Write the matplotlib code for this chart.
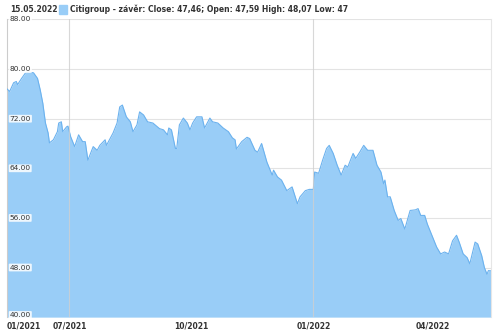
import matplotlib.pyplot as plt
import matplotlib.dates as mdates
import pandas as pd
import numpy as np

# dates as day offsets from the first point, prices
start = pd.Timestamp('2021-05-15')
day_offset = [0, 2, 5, 7, 8, 11, 14, 17, 20, 23, 25, 27, 29, 31, 32, 35, 38, 39,
              41, 42, 45, 46, 48, 51, 54, 57, 59, 61, 65, 68, 70, 74, 75, 78, 80,
              83, 85, 87, 90, 93, 95, 98, 100, 103, 106, 110, 115, 118, 121, 122,
              124, 127, 128, 130, 133, 136, 138, 140, 143, 147, 149, 153, 155, 159,
              163, 167, 170, 172, 173, 177, 181, 183, 187, 189, 192, 196, 200, 201,
              204, 207, 211, 215, 219, 221, 225, 228, 231, 232, 235, 238, 241, 243,
              246, 249, 252, 255, 257, 261, 263, 266, 269, 272, 276, 279, 282, 284,
              285, 287, 289, 292, 295, 297, 300, 304, 308, 310, 312, 315, 317, 321,
              324, 327, 330, 333, 336, 339, 341, 344, 347, 349, 353, 355, 358, 360,
              362, 363, 365]
close = [76.8, 76.4, 77.8, 78.0, 77.5, 78.5, 79.4, 79.5, 79.4, 78.5, 76.7, 74.5,
         71.3, 69.7, 68.1, 68.6, 69.9, 71.3, 71.5, 69.9, 70.7, 70.8, 69.1, 67.5,
         69.4, 68.3, 68.3, 65.3, 67.5, 66.9, 67.7, 68.6, 67.7, 68.9, 69.7, 71.3,
         73.9, 74.2, 72.3, 71.5, 69.9, 71.0, 73.1, 72.6, 71.5, 71.3, 70.4, 70.2,
         69.4, 70.5, 70.2, 67.2, 67.2, 71.0, 72.1, 71.3, 70.2, 71.3, 72.3, 72.3,
         70.5, 72.1, 71.5, 71.3, 70.5, 69.9, 68.9, 68.6, 67.1, 68.3, 69.0, 68.8,
         66.9, 66.6, 68.0, 65.0, 62.9, 63.7, 62.6, 62.1, 60.4, 61.0, 58.3, 59.4,
         60.4, 60.6, 60.6, 63.4, 63.2, 65.3, 67.2, 67.7, 66.4, 64.5, 62.9, 64.5,
         64.2, 66.4, 65.6, 66.6, 67.7, 66.9, 66.9, 64.5, 63.4, 61.5, 62.1, 59.4,
         59.4, 57.2, 55.6, 55.9, 54.2, 57.2, 57.3, 57.5, 56.4, 56.4, 55.0, 52.9,
         51.3, 50.2, 50.5, 50.2, 52.3, 53.2, 52.1, 50.2, 49.6, 48.6, 52.1, 51.8,
         49.9, 48.0, 46.9, 47.5, 47.46]

y_ticks = [40, 48, 56, 64, 72, 80, 88]
x_tick_dates = ['2021-05-15', '2021-07-01', '2021-10-01', '2022-01-01', '2022-04-01']
x_tick_labels = ['01/2021', '07/2021', '10/2021', '01/2022', '04/2022']
vlines = ['2021-07-01', '2022-01-01']

header_date = '15.05.2022'
legend_text = 'Citigroup - závěr: Close: 47,46; Open: 47,59 High: 48,07 Low: 47'

dates = start + pd.to_timedelta(day_offset, unit='D')

fig = plt.figure(figsize=(5, 3.3), dpi=100)
ax = fig.add_axes([0.014, 0.039, 0.968, 0.902])

ax.fill_between(dates, close, 40, color='#99cdf7', lw=0, zorder=2)
ax.plot(dates, close, color='#6cb2ee', lw=0.8, zorder=3)

ax.set_ylim(40, 88)
ax.set_xlim(dates[0], dates[-1])

for v in y_ticks:
    ax.axhline(v, color='#e3e3e3', lw=0.8, zorder=1)
    ypos = v + 0.35 if v == 40 else v
    ax.text(dates[0] + pd.Timedelta(days=2), ypos, f'{v:.2f}', fontsize=5.3,
            color='#333333', va='center', ha='left', zorder=5,
            bbox=dict(boxstyle='round,pad=0.12', fc='white', ec='none', alpha=0.85))
for d in vlines:
    ax.axvline(pd.Timestamp(d), color='#cfcfcf', lw=0.8, zorder=4, alpha=0.8)

ax.set_xticks(pd.to_datetime(x_tick_dates))
ax.set_xticklabels(x_tick_labels, fontsize=5.5, fontweight='bold', color='#333333')
ax.get_xticklabels()[0].set_ha('left')
ax.tick_params(axis='x', length=0, pad=3.5)
ax.set_yticks([])

for s in ['top', 'bottom']:
    ax.spines[s].set_visible(False)
ax.spines['left'].set_color('#cccccc')
ax.spines['right'].set_color('#e6e6e6')
ax.spines['left'].set_linewidth(0.8)
ax.spines['right'].set_linewidth(0.8)

# header line
fig.text(0.02, 0.972, header_date, fontsize=5.5, fontweight='bold', color='#333333', va='center')
fig.patches.append(plt.Rectangle((0.117, 0.958), 0.016, 0.028, transform=fig.transFigure,
                                 color='#99cdf7', figure=fig))
fig.text(0.14, 0.972, legend_text, fontsize=5.5, fontweight='bold', color='#333333', va='center')

fig.savefig('out.png', dpi=100)
